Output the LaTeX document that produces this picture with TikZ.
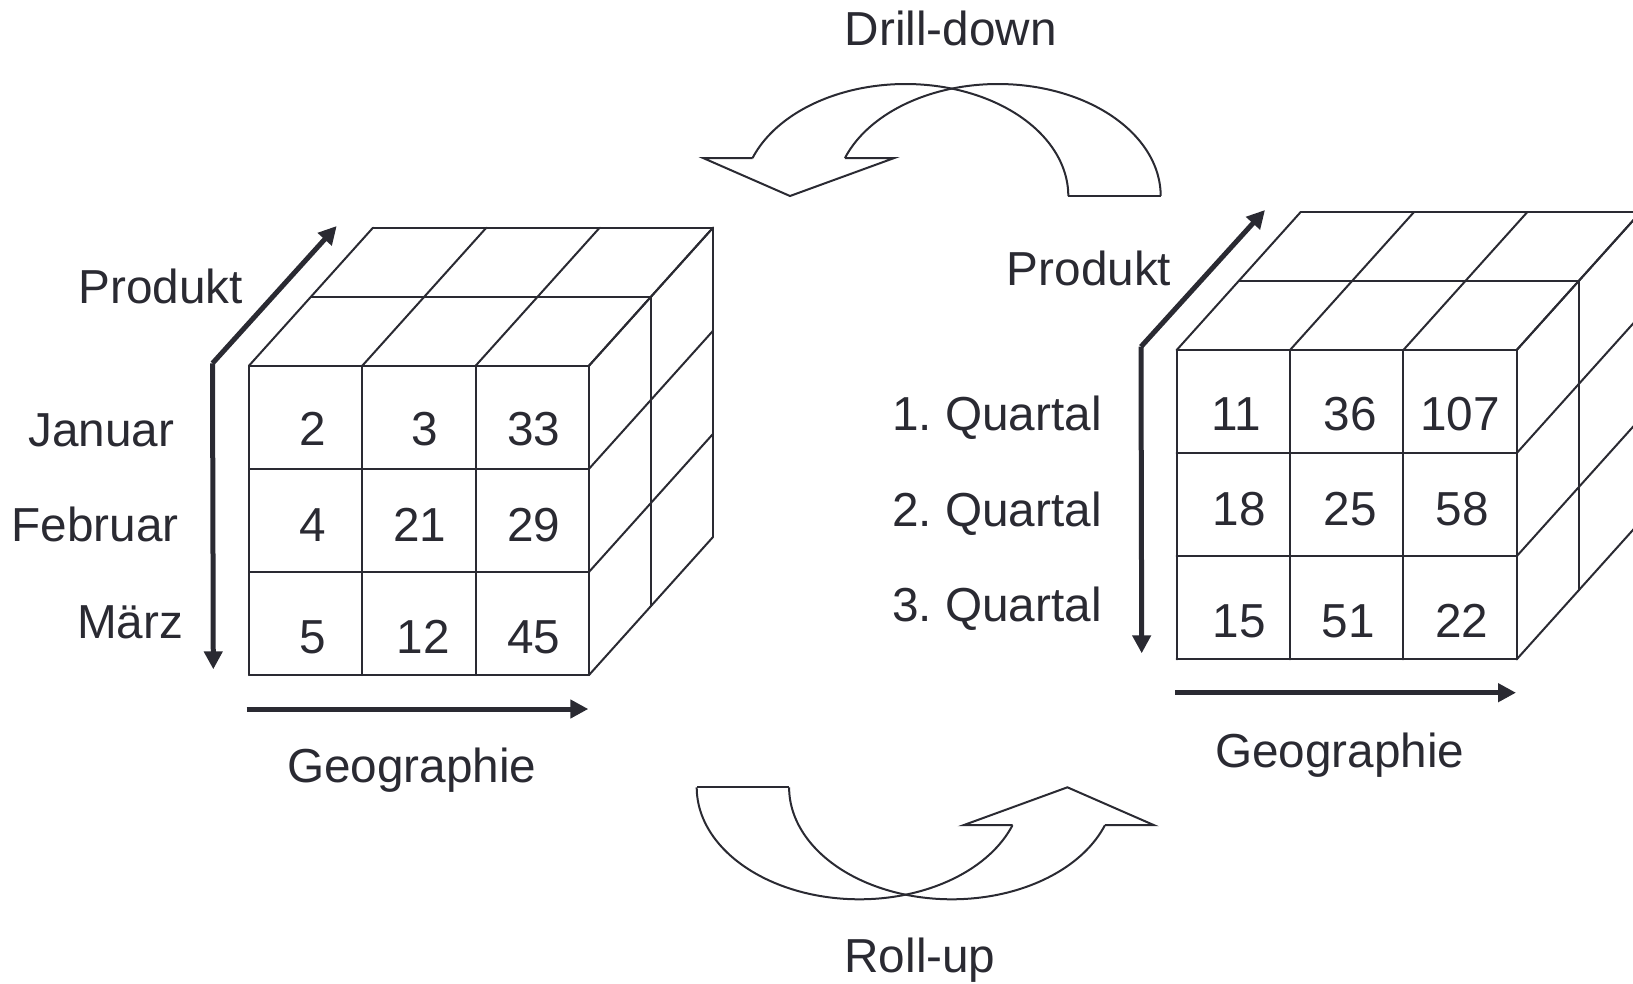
\documentclass[tikz,border=0pt]{standalone}
\usepackage{fontspec}
\setmainfont{Liberation Sans}
\usetikzlibrary{arrows.meta}
\definecolor{ink}{RGB}{42,42,50}
\frenchspacing
\newcommand\olapcube[2]{%
  \foreach \i in {0,1,2,3} {
    \draw[cubeline] (#1, #2+\i*103.1) -- ++(340,0);
    \draw[cubeline] (#1+\i*113.33, #2) -- ++(0,309.3);
    \draw[cubeline] (#1+\i*113.33, #2) -- ++(124,-138);
    \draw[cubeline] (#1+340, #2+\i*103.1) -- ++(124,-138);
  }
  \foreach \k in {1,2} {
    \draw[cubeline] (#1+\k*62, #2-\k*69) -- ++(340,0);
    \draw[cubeline] (#1+340+\k*62, #2-\k*69) -- ++(0,309.3);
  }
}
\newcommand\bandarrow{%
  \draw[bandline] plot[domain=160.2:0,samples=100] ({998+162.7*cos(\x)},{196-112*sin(\x)});
  \draw[bandline] plot[domain=160.2:0,samples=100] ({905.6+162.7*cos(\x)},{196-112*sin(\x)});
  \draw[bandline] (1068.3,196) -- (1160.7,196);
  \draw[bandline] (752.5,158.1) -- (703.3,158.1) -- (790,196) -- (894,158.1) -- (844.9,158.1);
}
\begin{document}
\begin{tikzpicture}[x=1pt,y=-1pt,
  lbl/.style={font=\fontsize{47.7}{56}\selectfont, inner sep=0pt, text=ink, anchor=base},
  cubeline/.style={draw=ink, line width=2pt, line cap=round},
  axisarrow/.style={draw=ink, line width=5pt, -{Triangle[length=18pt,width=18pt]}},
  bandline/.style={draw=ink, line width=2pt, line join=miter}]
\useasboundingbox (0,0) rectangle (1633,983);

% curved block arrows
\bandarrow
\begin{scope}[rotate around={180:(928.7,491.65)}]
\bandarrow
\end{scope}

% left cube
\olapcube{249}{365.7}
% right cube (clipped at the picture edge)
\begin{scope}
\clip (0,0) rectangle (1633,983);
\olapcube{1176.7}{350}
\end{scope}

% axis arrows, left
\coordinate (lo) at (212.5,363.3);
\coordinate (lp) at (336.7,226);
\coordinate (lm) at (213.3,669.3);
\coordinate (lg0) at (246.7,709);
\coordinate (lg1) at (588.3,709);
\draw[axisarrow] (lo) -- (lp);
\draw[axisarrow] (lo) -- (lm);
\draw[axisarrow] (lg0) -- (lg1);
% axis arrows, right
\coordinate (ro) at (1141,346.7);
\coordinate (rp) at (1265,210);
\coordinate (rm) at (1141.7,653.3);
\coordinate (rg0) at (1175,692.7);
\coordinate (rg1) at (1516,692.7);
\draw[axisarrow] (ro) -- (rp);
\draw[axisarrow] (ro) -- (rm);
\draw[axisarrow] (rg0) -- (rg1);

% titles
\node[lbl] (dd) at (950.8,45) {Drill-down};
\node[lbl] (ru) at (920,972) {Roll-up};

% left labels
\node[lbl] (lprod) at (160.8,303.3) {Produkt};
\node[lbl] (ljan) at (101.3,446.7) {Januar};
\node[lbl] (lfeb) at (95,541.7) {Februar};
\node[lbl] (lmar) at (130,638.3) {März};
\node[lbl] (lgeo) at (411.9,782) {Geographie};

% left numbers
\node[lbl] (a11) at (312.7,445.7) {2};
\node[lbl] (a12) at (425,445.7) {3};
\node[lbl] (a13) at (534,445.7) {33};
\node[lbl] (a21) at (312.7,541.7) {4};
\node[lbl] (a22) at (420,541.7) {21};
\node[lbl] (a23) at (534,541.7) {29};
\node[lbl] (a31) at (312.7,653.3) {5};
\node[lbl] (a32) at (423.3,653.3) {12};
\node[lbl] (a33) at (534,653.3) {45};

% right labels
\node[lbl] (rprod) at (1089,285) {Produkt};
\node[lbl] (rq1) at (997,430) {1. Quartal};
\node[lbl] (rq2) at (997,526) {2. Quartal};
\node[lbl] (rq3) at (997,621.7) {3. Quartal};
\node[lbl] (rgeo) at (1339.9,767) {Geographie};

% right numbers
\node[lbl] (b11) at (1236,430) {11};
\node[lbl] (b12) at (1350,430) {36};
\node[lbl] (b13) at (1460,430) {107};
\node[lbl] (b21) at (1239.3,525.7) {18};
\node[lbl] (b22) at (1350,525.7) {25};
\node[lbl] (b23) at (1462.3,525.7) {58};
\node[lbl] (b31) at (1239.3,637.3) {15};
\node[lbl] (b32) at (1348.3,637.3) {51};
\node[lbl] (b33) at (1461.7,637.3) {22};
\end{tikzpicture}
\end{document}
